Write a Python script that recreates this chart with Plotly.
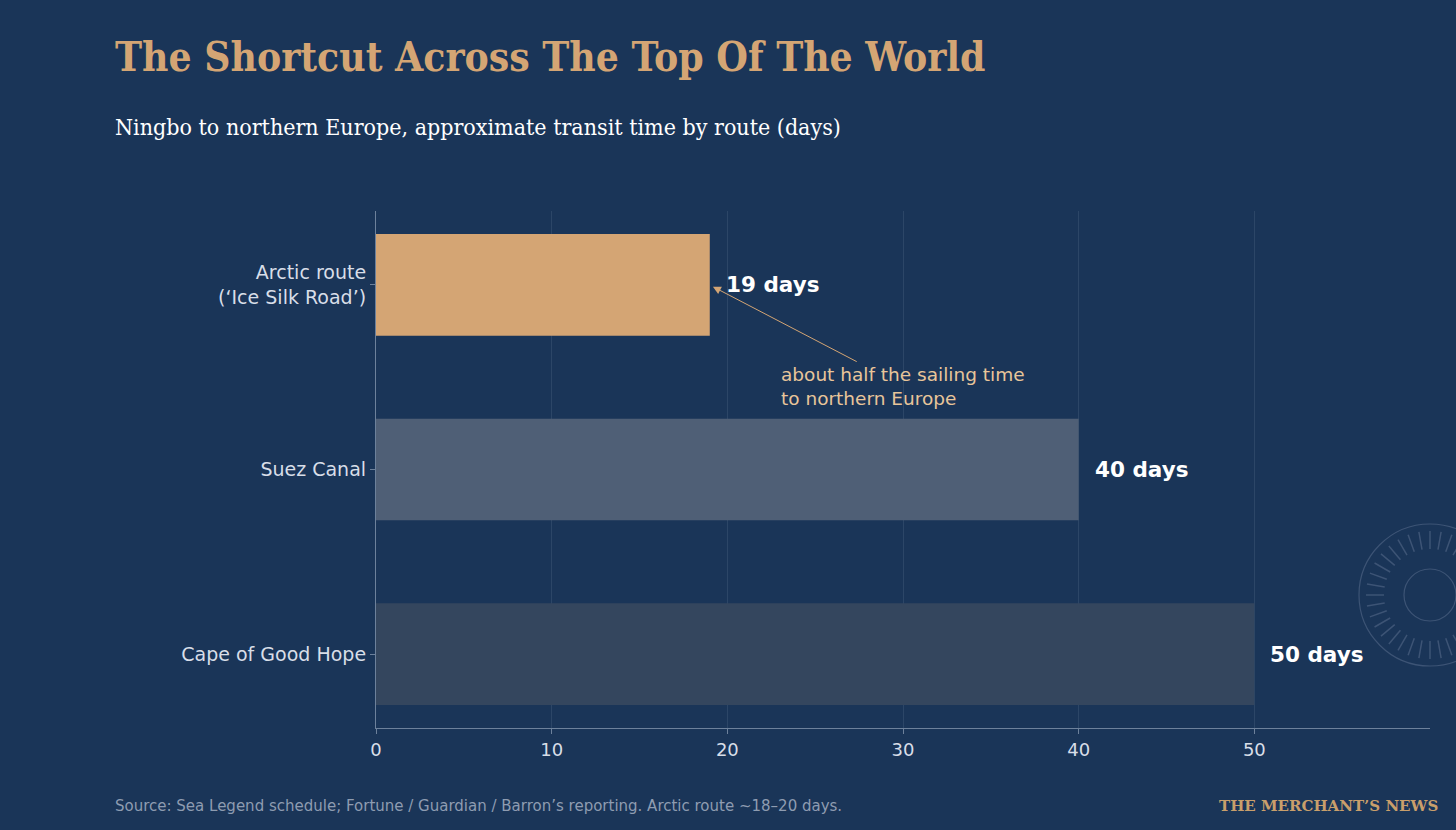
import numpy as np
import plotly.graph_objects as go

W, H = 1456, 830
M = {'l': 376, 'r': 26, 't': 211, 'b': 102}
BG = '#1a3558'
TAN = '#d4a574'

routes = ['Arctic route<br>(\u2018Ice Silk Road\u2019)', 'Suez Canal', 'Cape of Good Hope']
days = [19, 40, 50]
day_labels = ['19 days', '40 days', '50 days']
bar_colors = [TAN, '#4f5f76', '#34465e']
x_ticks = [0, 10, 20, 30, 40, 50]

TITLE = 'The Shortcut Across The Top Of The World'
SUBTITLE = 'Ningbo to northern Europe, approximate transit time by route (days)'
NOTE = 'about half the sailing time<br>to northern Europe'
SOURCE = 'Source: Sea Legend schedule; Fortune / Guardian / Barron\u2019s reporting. Arctic route ~18\u201320 days.'
BRAND = 'THE MERCHANT\u2019S NEWS'


def paper(xpx, ypx):
    # page pixels -> paper coords of the plot area
    pw = W - M['l'] - M['r']
    ph = H - M['t'] - M['b']
    return (xpx - M['l']) / pw, (H - M['b'] - ypx) / ph


fig = go.Figure(go.Bar(
    x=days, y=routes, orientation='h', width=0.55,
    marker=dict(color=bar_colors, line=dict(width=0)),
    hoverinfo='skip',
))

# value labels at the end of each bar
for r, d, lab in zip(routes, days, day_labels):
    fig.add_annotation(x=d, y=r, text=lab, showarrow=False, xanchor='left', yanchor='middle',
                       xshift=14, font=dict(family='DejaVu Sans', size=21.5, color='white', weight='bold'))

# callout
fig.add_annotation(x=22.95, y=0.55, text=NOTE, showarrow=False, xanchor='left', yanchor='middle',
                   align='left', font=dict(family='DejaVu Sans', size=18.5, color='#e8c59a'))
fig.add_annotation(x=19.18, y=0.01, ax=27.45, ay=0.42, axref='x', ayref='y', text='',
                   showarrow=True, arrowhead=2, arrowsize=1.6, arrowwidth=1, arrowcolor=TAN)

# titles / footer
tx, ty = paper(113, 31)
fig.add_annotation(x=tx, y=ty, xref='paper', yref='paper', text=TITLE, showarrow=False,
                   xanchor='left', yanchor='top',
                   font=dict(family='DejaVu Serif Condensed', size=40.4, color=TAN, weight='bold'))
sx, sy = paper(113, 127)
fig.add_annotation(x=sx, y=sy, xref='paper', yref='paper', text=SUBTITLE, showarrow=False,
                   xanchor='left', yanchor='middle',
                   font=dict(family='DejaVu Serif Condensed', size=23, color='white'))
fx, fy = paper(113, 806)
fig.add_annotation(x=fx, y=fy, xref='paper', yref='paper', text=SOURCE, showarrow=False,
                   xanchor='left', yanchor='middle',
                   font=dict(family='DejaVu Sans', size=15, color='#8e9cb1'))
bx, by = paper(1440, 806)
fig.add_annotation(x=bx, y=by, xref='paper', yref='paper', text=BRAND, showarrow=False,
                   xanchor='right', yanchor='middle',
                   font=dict(family='DejaVu Serif', size=15, color='#c99f6b', weight='bold'))

# compass ornament
cx, cy = paper(1430, 595)
ring = '#3d5475'
for rad in (71, 26):
    fig.add_shape(type='circle', xref='paper', yref='paper', xsizemode='pixel', ysizemode='pixel',
                  xanchor=cx, yanchor=cy, x0=-rad, x1=rad, y0=-rad, y1=rad,
                  line=dict(color=ring, width=1.2), layer='below')
for a in np.deg2rad(np.arange(0, 360, 10)):
    fig.add_shape(type='line', xref='paper', yref='paper', xsizemode='pixel', ysizemode='pixel',
                  xanchor=cx, yanchor=cy, x0=46 * np.cos(a), x1=64 * np.cos(a),
                  y0=46 * np.sin(a), y1=64 * np.sin(a),
                  line=dict(color=ring, width=1.5), layer='below')

fig.update_layout(
    width=W, height=H, margin=M, paper_bgcolor=BG, plot_bgcolor=BG, showlegend=False,
    font=dict(family='DejaVu Sans', color='#d8dee8', size=18),
    xaxis=dict(range=[0, 60], tickvals=x_ticks, showgrid=True, gridcolor='#2c4667', gridwidth=1,
               zeroline=False, showline=True, linecolor='#6d819b', linewidth=1.2,
               ticks='outside', ticklen=5, tickcolor='#6d819b', tickfont=dict(size=18, color='#d8dee8')),
    yaxis=dict(type='category', categoryorder='array', categoryarray=routes, range=[2.4, -0.4],
               showgrid=False, zeroline=False, showline=True, linecolor='#6d819b', linewidth=1.2,
               ticks='outside', ticklen=5, tickcolor='#6d819b', tickfont=dict(size=19, color='#d8dee8')),
)

fig.write_html('out.html', config={'displayModeBar': False},
               post_script="document.body.style.margin='0';document.body.style.background='%s';" % BG)
